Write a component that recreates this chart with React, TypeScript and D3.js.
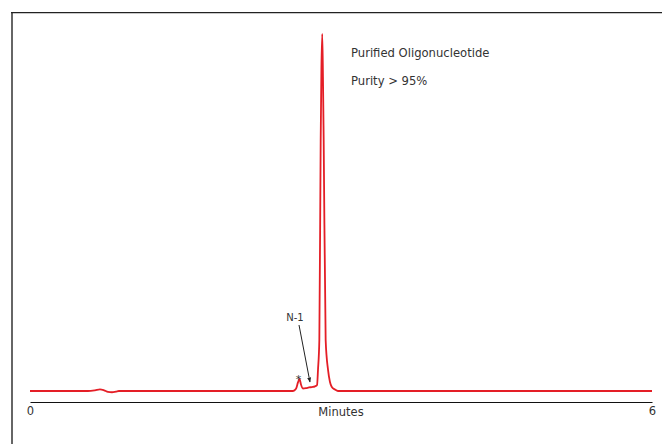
import * as React from "react";
import * as d3 from "d3";

// chromatogram trace (minutes, relative absorbance)
const times: number[] = [
  0, 0.559, 0.627, 0.675, 0.714, 0.752, 0.791, 0.83, 0.858, 2.537, 2.566,
  2.585, 2.6, 2.614, 2.633, 2.662, 2.691, 2.72, 2.749, 2.769, 2.778, 2.791,
  2.804, 2.811, 2.819, 2.826, 2.833, 2.852, 2.875, 2.893, 2.91, 2.942, 2.971, 6
];
const signal: number[] = [
  0, 0, 0.2, 0.45, 0.2, -0.25, -0.35, -0.15, 0, 0, 0.6, 2.4, 3.4, 1.8, 0.7, 0.8,
  1.0, 1.1, 1.3, 1.7, 5.9, 14.3, 70, 90, 100, 88, 70, 14.3, 5.9, 2.6, 1.2, 0.4,
  0, 0
];
const xTicks: number[] = [0, 6];
const notes: string[] = ["Purified Oligonucleotide", "Purity > 95%"];
const starAt = { t: 2.6, v: 3.4 };
const n1At = { t: 2.72, v: 1.1 };

const width = 662;
const height = 444;
const font = "'DejaVu Sans', Verdana, sans-serif";
const textColor = "#333";

const xScale = d3.scaleLinear().domain([0, 6]).range([30, 652]);
const yScale = d3.scaleLinear().domain([0, 100]).range([391, 34]);

const pts: [number, number][] = times.map((t, i) => [t, signal[i]]);
const line = d3
  .line<[number, number]>()
  .x(d => xScale(d[0]))
  .y(d => yScale(d[1]))
  .curve(d3.curveMonotoneX);

export default function App() {
  const axisRef = React.useRef<SVGGElement>(null);

  React.useEffect(() => {
    const g = d3.select(axisRef.current);
    g.call(
      d3
        .axisBottom(xScale)
        .tickValues(xTicks)
        .tickSize(0)
        .tickPadding(5)
        .tickFormat(d3.format("d"))
    );
    g.select(".domain").attr("stroke", "#111").attr("stroke-width", 1.2);
    g.selectAll("text")
      .attr("font-family", font)
      .attr("font-size", 11.5)
      .attr("fill", textColor);
  }, []);

  const sx = xScale(starAt.t);
  const sy = yScale(starAt.v);
  const tipX = xScale(n1At.t) - 2;
  const tipY = yScale(n1At.v) - 5;

  return (
    <svg
      width={width}
      height={height}
      style={{ position: "absolute", left: 0, top: 0, background: "#fff" }}
    >
      <defs>
        <marker
          id="arrow"
          viewBox="0 0 10 10"
          refX="9"
          refY="5"
          markerWidth="5"
          markerHeight="5"
          orient="auto"
        >
          <path d="M0,1 L10,5 L0,9 Z" fill="#222" />
        </marker>
      </defs>
      {/* frame */}
      <line x1={12} x2={12} y1={12} y2={height} stroke="#666" strokeWidth={2} />
      <line x1={11} x2={width} y1={12.6} y2={12.6} stroke="#222" strokeWidth={1.4} />

      <path d={line(pts) || ""} fill="none" stroke="#e41e26" strokeWidth={1.8} />

      <g ref={axisRef} transform="translate(0,402)" />
      <text
        x={(xScale(0) + xScale(6)) / 2}
        y={416}
        textAnchor="middle"
        fontFamily={font}
        fontSize={11.5}
        fill={textColor}
      >
        Minutes
      </text>

      {notes.map((n, i) => (
        <text
          key={n}
          x={351}
          y={57 + i * 28}
          fontFamily={font}
          fontSize={11.6}
          fill={textColor}
        >
          {n}
        </text>
      ))}

      <text
        x={sx - 1}
        y={sy + 4}
        textAnchor="middle"
        fontFamily={font}
        fontSize={11}
        fill={textColor}
      >
        *
      </text>
      <text
        x={295}
        y={321}
        textAnchor="middle"
        fontFamily={font}
        fontSize={10}
        fill={textColor}
      >
        N-1
      </text>
      <line
        x1={299}
        y1={325}
        x2={tipX}
        y2={tipY}
        stroke="#222"
        strokeWidth={1}
        markerEnd="url(#arrow)"
      />
    </svg>
  );
}
